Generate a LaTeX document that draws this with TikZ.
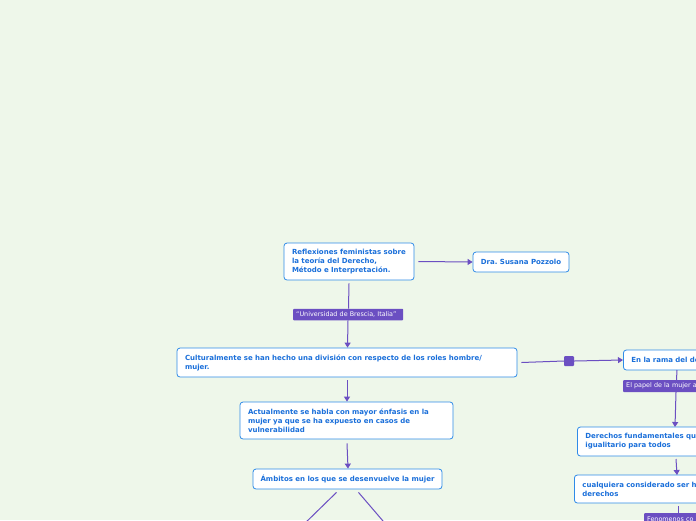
\documentclass[tikz,border=0pt]{standalone}
\usepackage{fontspec}
\setmainfont{DejaVu Sans}
\usetikzlibrary{arrows.meta}
\definecolor{bg}{HTML}{EEF7EA}
\definecolor{bord}{HTML}{2F8BE8}
\definecolor{txt}{HTML}{1A6FDA}
\definecolor{purp}{HTML}{6B4FC2}
\frenchspacing
\tikzset{
  box/.style={draw=bord, fill=white, rounded corners=3pt, line width=0.8pt,
    inner xsep=8pt, inner ysep=0pt, align=left, text=txt,
    font=\fontsize{7}{9}\selectfont\bfseries},
  lab/.style={fill=purp, text=white, inner xsep=3pt, inner ysep=0pt, rounded corners=0.8pt,
    font=\fontsize{6.4}{7}\selectfont, align=left, anchor=west},
  conn/.style={draw=purp, line width=1pt},
  arr/.style={conn, -{Triangle[length=5pt,width=6pt]}},
}
\begin{document}
\begin{tikzpicture}[x=1pt,y=-1pt]
\useasboundingbox (0,0) rectangle (696,520);
\fill[bg] (0,0) rectangle (696,520);
\clip (0,0) rectangle (696,520);
% boxes
\node[box, minimum width=130pt, minimum height=37pt, text width=114pt] (n1) at (349,261.5)
  {Reflexiones feministas sobre\\la teoría del Derecho,\\Método e Interpretación.};
\node[box, minimum width=96pt, minimum height=20pt, inner xsep=2pt] (n2) at (521,262)
  {Dra.\ Susana Pozzolo};
\node[box, minimum width=340pt, minimum height=29pt, text width=324pt] (n3) at (347,362.5)
  {Culturalmente se han hecho una división con respecto de los roles hombre/\\mujer.};
\node[box, minimum width=213pt, minimum height=37pt, text width=197pt] (n7) at (346.5,420.5)
  {Actualmente se habla con mayor énfasis en la\\mujer ya que se ha expuesto en casos de\\vulnerabilidad};
\node[box, minimum width=189pt, minimum height=20pt, inner xsep=2pt] (n8) at (347.5,479)
  {Ámbitos en los que se desenvuelve la mujer};
\node[box, minimum width=90pt, minimum height=20pt, text width=74pt, anchor=west] (n4) at (623,360)
  {En la rama del de};
\node[box, minimum width=140pt, minimum height=29pt, text width=124pt, anchor=west] (n5) at (577,441.5)
  {Derechos fundamentales qu\\igualitario para todos};
\node[box, minimum width=140pt, minimum height=28pt, text width=124pt, anchor=west] (n6) at (574,489)
  {cualquiera considerado ser h\\derechos};
% labels
\node[lab, minimum height=11.5pt, text width=104pt] (l1) at (293,314.5)
  {“Universidad de Brescia, Italia”};
\node[lab, minimum height=12pt, text width=80pt] (l2) at (623,386)
  {El papel de la mujer a};
\node[lab, minimum height=12pt, text width=50pt] (l3) at (644,519)
  {Fenomenos co};
\node[fill=purp, minimum size=10pt, inner sep=0pt, rounded corners=1pt] (sq) at (569,361) {};
% free ends
\coordinate (e1) at (300,528);
\coordinate (e2) at (389,528);
% connectors
\draw[arr] ([xshift=4pt]n1.east) -- (n2.west);
\draw[conn] ([shift={(0,3)}]n1.south) -- (l1.north -| 348.5,0);
\draw[arr] (l1.south -| 348,0) -- (n3.north -| 347.5,0);
\draw[conn] ([xshift=4pt]n3.east) -- (sq.west);
\draw[arr] (sq.east) -- (n4.west);
\draw[arr] ([shift={(0,3)}]n3.south) -- (n7.north -| 347,0);
\draw[arr] ([shift={(0.5,4)}]n7.south) -- (n8.north -| 348,0);
\draw[conn] ([shift={(-11,3)}]n8.south) -- (e1);
\draw[conn] ([shift={(11,3)}]n8.south) -- (e2);
\draw[conn] (677,370) -- (l2.north -| 676.5,0);
\draw[arr] (l2.south -| 676,0) -- (675,427);
\draw[arr] (676,459) -- (677,475);
\draw[conn] (678,506) -- (l3.north -| 678,0);
\end{tikzpicture}
\end{document}
